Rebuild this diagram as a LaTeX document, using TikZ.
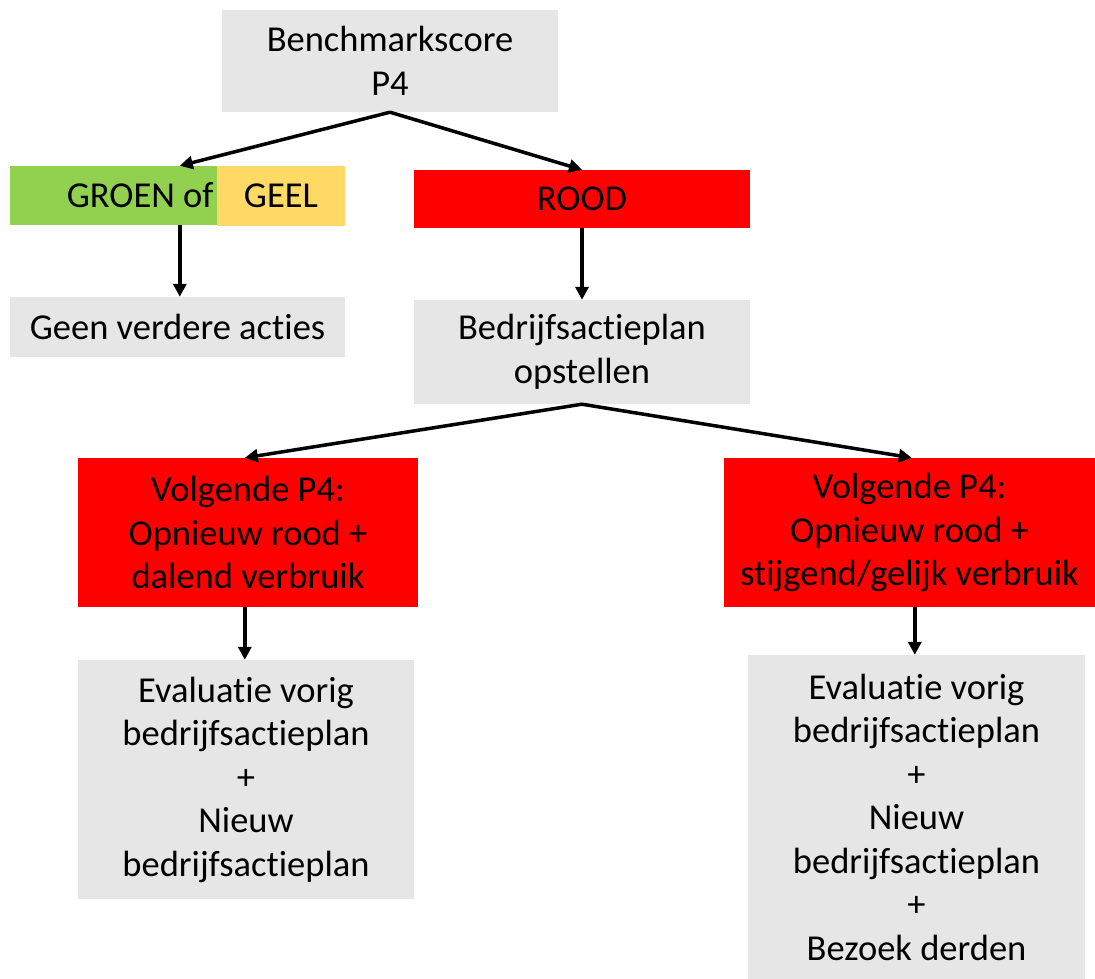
\documentclass[tikz,border=0pt]{standalone}
\usepackage{fontspec}
\setmainfont{Carlito}[Ligatures=NoCommon]
\usetikzlibrary{arrows.meta}

\definecolor{boxgray}{HTML}{E7E6E6}
\definecolor{boxgreen}{HTML}{92D050}
\definecolor{boxyellow}{HTML}{FFD966}
\definecolor{boxred}{HTML}{FF0000}

\tikzset{
  plan/.style={fill=#1, draw=none, inner sep=0pt, align=center,
    font=\fontsize{36.5}{43.5}\selectfont},
  plan/.default=boxgray,
  arr/.style={line width=3.5pt, -{Triangle[length=13pt,width=13pt]}}
}

\begin{document}
\begin{tikzpicture}[x=1pt, y=-1pt]

    % One unit is one pixel of the original sketch
    \useasboundingbox (0,0) rectangle (1095,979);

    % Start of the flow
    \node[plan, minimum width=336, minimum height=102] (score) at (390,61)
      {Benchmarkscore\\P4};

    % Outcome of the score
    \node[plan=boxgreen, minimum width=207, minimum height=59,
      text width=200pt, align=flush right] (groen) at (113.5,195.5) {GROEN of};
    \node[plan=boxyellow, minimum width=128, minimum height=60] (geel) at (281,196) {GEEL};
    \node[plan=boxred, minimum width=336, minimum height=58] (rood) at (582,199) {ROOD};

    % What follows
    \node[plan, minimum width=335, minimum height=60] (geen) at (177.5,327)
      {Geen verdere acties};
    \node[plan, minimum width=336, minimum height=104] (bap) at (582,352)
      {Bedrijfsactieplan\\opstellen};

    % Next P4, two cases
    \node[plan=boxred, minimum width=340, minimum height=149] (daal) at (248,532.5)
      {Volgende P4:\\Opnieuw rood +\\dalend verbruik};
    \node[plan=boxred, minimum width=371, minimum height=149] (stijg) at (909.5,532.5)
      {Volgende P4:\\Opnieuw rood +\\stijgend/gelijk verbruik};

    \node[plan, minimum width=336, minimum height=239] (evala) at (246,779.5)
      {Evaluatie vorig\\bedrijfsactieplan\\+\\Nieuw\\bedrijfsactieplan};
    \node[plan, minimum width=337, minimum height=324] (evalb) at (916.5,817)
      {Evaluatie vorig\\bedrijfsactieplan\\+\\Nieuw\\bedrijfsactieplan\\+\\Bezoek derden};

    % Points where the arrows meet the boxes
    \coordinate (gin) at ([xshift=170pt]groen.north west);
    \coordinate (gout) at ([xshift=170pt]groen.south west);
    \coordinate (din) at ([xshift=167pt]daal.north west);
    \coordinate (dout) at ([xshift=167pt]daal.south west);
    \coordinate (sin) at ([xshift=188pt]stijg.north west);
    \coordinate (sout) at ([xshift=191pt]stijg.south west);
    \coordinate (ein) at (dout |- evala.north);
    \coordinate (fin) at (sout |- evalb.north);

    % Arrows
    \draw[arr] (score.south) -- (gin);
    \draw[arr] (score.south) -- (rood.north);
    \draw[arr] (gout) -- (gout |- geen.north);
    \draw[arr] (rood.south) -- (bap.north);
    \draw[arr] (bap.south) -- (din);
    \draw[arr] (bap.south) -- (sin);
    \draw[arr] (dout) -- (ein);
    \draw[arr] (sout) -- (fin);

\end{tikzpicture}
\end{document}
